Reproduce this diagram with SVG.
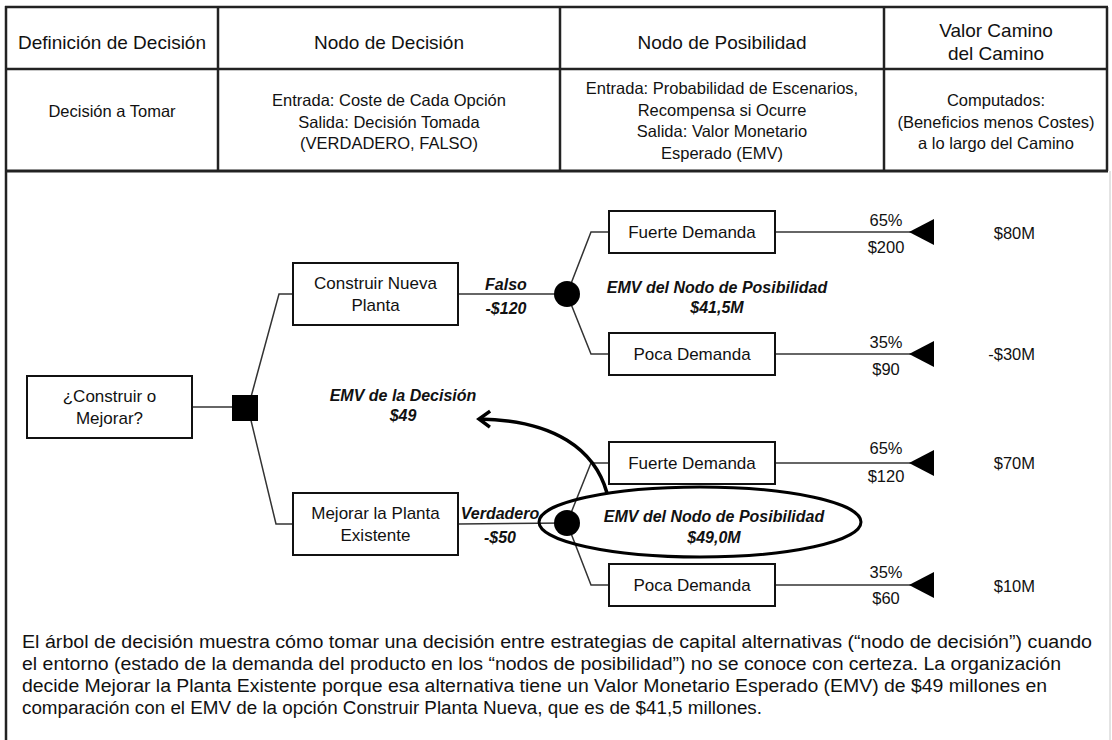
<svg xmlns="http://www.w3.org/2000/svg" width="1112" height="740" viewBox="0 0 1112 740">
<style>
text{font-family:"Liberation Sans",Arial,sans-serif;fill:#111}
.hdr{font-size:19px;text-anchor:middle}
.cell{font-size:16.5px;text-anchor:middle}
.lbl{font-size:17px;text-anchor:middle}
.emv{font-size:16px;font-weight:bold;font-style:italic;text-anchor:middle}
.pay{font-size:16.5px;text-anchor:middle}
.val{font-size:16.5px;text-anchor:end}
.para{font-size:18px}
.box{fill:#fff;stroke:#111;stroke-width:2}
.edge{stroke:#333;stroke-width:1.5;fill:none}
.tbl{stroke:#222;stroke-width:2.5;fill:none}
.term{fill:#000}
.bold{stroke:#000;stroke-width:3.5;fill:none}
</style>
<defs>
<marker id="chev" markerUnits="userSpaceOnUse" markerWidth="30" markerHeight="30" viewBox="-15 -15 30 30" refX="0" refY="0" orient="auto">
<path d="M-11,-8 L0,0 L-11,8" fill="none" stroke="#000" stroke-width="3.5" stroke-linejoin="miter"/>
</marker>
</defs>

<g id="table">
<line class="tbl" x1="6" y1="6" x2="6" y2="740"/>
<line class="tbl" x1="5" y1="7" x2="1108" y2="7"/>
<line class="tbl" x1="6" y1="69" x2="1107" y2="69"/>
<line class="tbl" x1="5" y1="171" x2="1108" y2="171" style="stroke-width:3"/>
<line class="tbl" x1="218" y1="7" x2="218" y2="171"/>
<line class="tbl" x1="560" y1="7" x2="560" y2="171"/>
<line class="tbl" x1="884" y1="7" x2="884" y2="171"/>
<line class="tbl" x1="1107" y1="7" x2="1107" y2="171"/>
<line x1="1110" y1="171" x2="1110" y2="740" stroke="#c8c8c8" stroke-width="1"/>
<text class="hdr" x="112" y="49">Definición de Decisión</text>
<text class="hdr" x="389" y="49">Nodo de Decisión</text>
<text class="hdr" x="722" y="49">Nodo de Posibilidad</text>
<text class="hdr" x="996" y="37">Valor Camino</text>
<text class="hdr" x="996" y="60">del Camino</text>
<text class="cell" x="112" y="117">Decisión a Tomar</text>
<text class="cell" x="389" y="106">Entrada: Coste de Cada Opción</text>
<text class="cell" x="389" y="127.5">Salida: Decisión Tomada</text>
<text class="cell" x="389" y="149">(VERDADERO, FALSO)</text>
<text class="cell" x="722" y="94">Entrada: Probabilidad de Escenarios,</text>
<text class="cell" x="722" y="115.5">Recompensa si Ocurre</text>
<text class="cell" x="722" y="137">Salida: Valor Monetario</text>
<text class="cell" x="722" y="158.5">Esperado (EMV)</text>
<text class="cell" x="996" y="106">Computados:</text>
<text class="cell" x="996" y="127.5">(Beneficios menos Costes)</text>
<text class="cell" x="996" y="149">a lo largo del Camino</text>
</g>

<g id="connectors">
<polyline class="edge" points="192,407 245,407"/>
<polyline class="edge" points="248,408 279,294 293,294"/>
<polyline class="edge" points="248,408 276,524 293,524"/>
<polyline class="edge" points="458,294 567,294"/>
<polyline class="edge" points="458,524 567,523"/>
<polyline class="edge" points="567,294 591,232 609,232"/>
<polyline class="edge" points="567,294 591,354 609,354"/>
<polyline class="edge" points="567,523 591,463 609,463"/>
<polyline class="edge" points="567,523 591,585 609,585"/>
<line class="edge" x1="775" y1="232" x2="912" y2="232"/>
<line class="edge" x1="775" y1="354" x2="912" y2="354"/>
<line class="edge" x1="775" y1="463" x2="912" y2="463"/>
<line class="edge" x1="775" y1="585" x2="912" y2="585"/>
<path class="bold" d="M607,493 C595,450 555,420 479,419" marker-end="url(#chev)"/>
</g>

<g id="root">
<rect class="box" x="27" y="376" width="165" height="62"/>
<text class="lbl" x="109.5" y="402">¿Construir o</text>
<text class="lbl" x="109.5" y="424">Mejorar?</text>
</g>

<g id="decision-node">
<rect x="232" y="395" width="26" height="26" fill="#000"/>
</g>

<g id="emv-decision">
<text class="emv" x="403" y="401">EMV de la Decisión</text>
<text class="emv" x="403" y="421">$49</text>
</g>

<g id="build">
<rect class="box" x="293" y="263" width="165" height="62"/>
<text class="lbl" x="375.5" y="289">Construir Nueva</text>
<text class="lbl" x="375.5" y="311">Planta</text>
<text class="emv" x="506" y="290">Falso</text>
<text class="emv" x="506" y="314">-$120</text>
</g>

<g id="improve">
<rect class="box" x="293" y="493" width="165" height="62"/>
<text class="lbl" x="375.5" y="519">Mejorar la Planta</text>
<text class="lbl" x="375.5" y="541">Existente</text>
<text class="emv" x="500" y="519">Verdadero</text>
<text class="emv" x="500" y="543">-$50</text>
</g>

<g id="chance-1">
<circle cx="567" cy="294" r="13" fill="#000"/>
<text class="emv" x="717" y="293">EMV del Nodo de Posibilidad</text>
<text class="emv" x="717" y="313">$41,5M</text>
</g>

<g id="chance-2">
<ellipse cx="700" cy="522" rx="161" ry="35" fill="none" stroke="#000" stroke-width="3"/>
<circle cx="567" cy="523" r="13" fill="#000"/>
<text class="emv" x="714" y="522">EMV del Nodo de Posibilidad</text>
<text class="emv" x="714" y="543">$49,0M</text>
</g>

<g id="build-strong">
<rect class="box" x="609" y="211" width="166" height="42"/>
<text class="lbl" x="692" y="238">Fuerte Demanda</text>
</g>
<g id="build-weak">
<rect class="box" x="609" y="333" width="166" height="42"/>
<text class="lbl" x="692" y="360">Poca Demanda</text>
</g>
<g id="improve-strong">
<rect class="box" x="609" y="442" width="166" height="42"/>
<text class="lbl" x="692" y="469">Fuerte Demanda</text>
</g>
<g id="improve-weak">
<rect class="box" x="609" y="564" width="166" height="42"/>
<text class="lbl" x="692" y="591">Poca Demanda</text>
</g>

<g id="end-1">
<polygon class="term" points="909,232 934,219 934,245"/>
<text class="pay" x="886" y="226">65%</text>
<text class="pay" x="886" y="253">$200</text>
<text class="val" x="1035" y="239">$80M</text>
</g>
<g id="end-2">
<polygon class="term" points="909,354 934,341 934,367"/>
<text class="pay" x="886" y="348">35%</text>
<text class="pay" x="886" y="375">$90</text>
<text class="val" x="1035" y="360">-$30M</text>
</g>
<g id="end-3">
<polygon class="term" points="909,463 934,450 934,476"/>
<text class="pay" x="886" y="454">65%</text>
<text class="pay" x="886" y="482">$120</text>
<text class="val" x="1035" y="469">$70M</text>
</g>
<g id="end-4">
<polygon class="term" points="909,585 934,572 934,598"/>
<text class="pay" x="886" y="578">35%</text>
<text class="pay" x="886" y="604">$60</text>
<text class="val" x="1035" y="592">$10M</text>
</g>

<g id="caption">
<text class="para" x="22" y="648" textLength="1070" lengthAdjust="spacingAndGlyphs">El árbol de decisión muestra cómo tomar una decisión entre estrategias de capital alternativas (“nodo de decisión”) cuando</text>
<text class="para" x="22" y="670" textLength="1039" lengthAdjust="spacingAndGlyphs">el entorno (estado de la demanda del producto en los “nodos de posibilidad”) no se conoce con certeza. La organización</text>
<text class="para" x="22" y="692" textLength="1025" lengthAdjust="spacingAndGlyphs">decide Mejorar la Planta Existente porque esa alternativa tiene un Valor Monetario Esperado (EMV) de $49 millones en</text>
<text class="para" x="22" y="714" textLength="740" lengthAdjust="spacingAndGlyphs">comparación con el EMV de la opción Construir Planta Nueva, que es de $41,5 millones.</text>
</g>
</svg>
